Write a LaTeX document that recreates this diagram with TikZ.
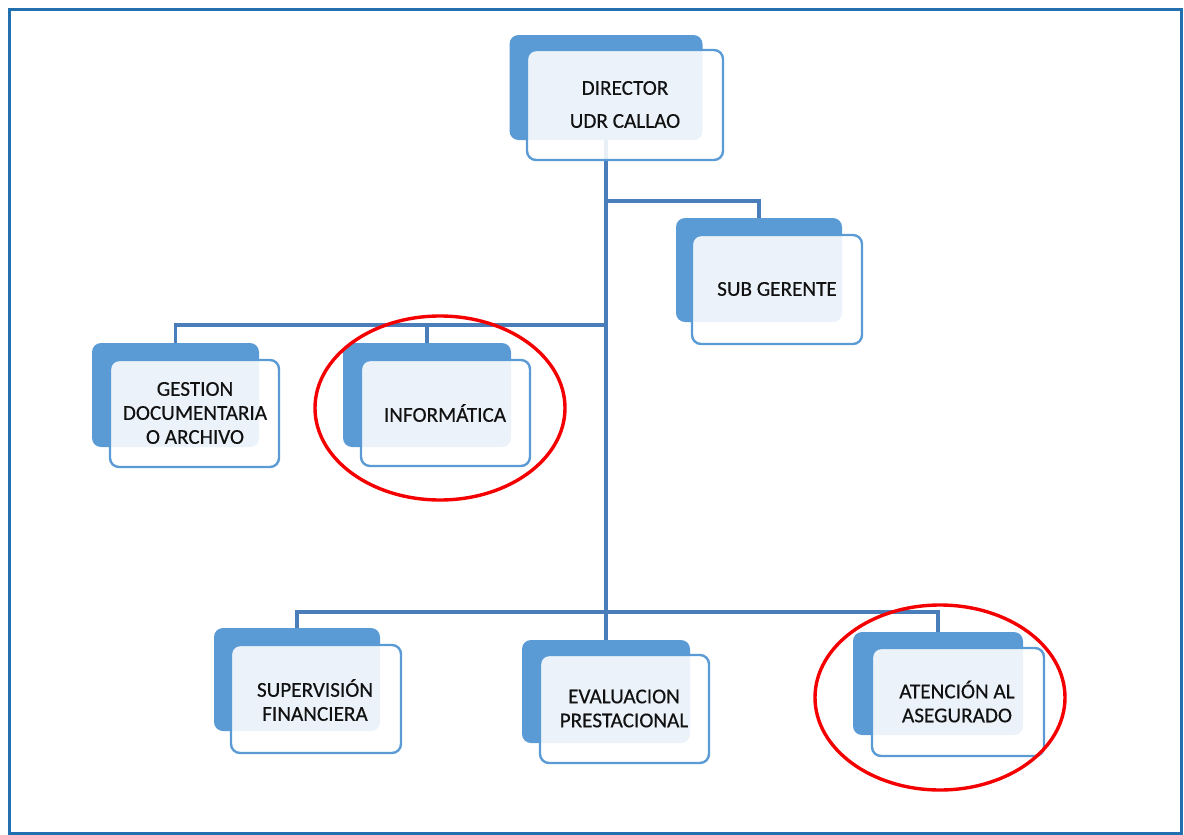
\documentclass[tikz,border=0pt]{standalone}
\usepackage{fontspec}
\setmainfont{Carlito}
\newfontfamily\lblfont{Carlito}[FakeBold=0.4]
\definecolor{frame}{HTML}{2270B0}
\definecolor{conn}{HTML}{4A7EBB}
\definecolor{bk}{HTML}{5B9BD5}
\definecolor{fr}{HTML}{5B9BD5}
\definecolor{txt}{HTML}{111111}
\definecolor{mark}{HTML}{F50000}
\tikzset{
  backbox/.style={fill=bk, draw=none, rounded corners=4.5pt, inner sep=0pt},
  frontbox/.style={draw=fr, line width=1.2pt, fill=white, fill opacity=0.88, rounded corners=4.5pt, inner sep=0pt},
  label/.style={text=txt, align=center, font=\lblfont\fontsize{10.6}{12}\selectfont, inner sep=0pt},
  connline/.style={draw=conn, line width=1.6pt},
  markring/.style={draw=mark, line width=1.7pt}
}
\begin{document}
\begin{tikzpicture}[x=0.5pt, y=-0.5pt]
\useasboundingbox (0,0) rectangle (1184,835);
\draw[frame, line width=1.5pt] (9,9) rectangle (1181,833);

% back boxes
\node[backbox, minimum width=96.5pt, minimum height=52.5pt] (dirB) at (606,87.5) {};
\node[backbox, minimum width=83pt, minimum height=52pt] (subB) at (759,270) {};
\node[backbox, minimum width=83.5pt, minimum height=52pt] (gesB) at (175.5,395) {};
\node[backbox, minimum width=84pt, minimum height=52pt] (infB) at (427,395) {};
\node[backbox, minimum width=83pt, minimum height=51.5pt] (supB) at (297,679.5) {};
\node[backbox, minimum width=84pt, minimum height=51.5pt] (evaB) at (606,691.5) {};
\node[backbox, minimum width=85pt, minimum height=51.5pt] (ateB) at (938,683.5) {};

% connectors
\coordinate (j1) at (606,201);
\coordinate (j2) at (606,325);
\coordinate (j3) at (606,612);
\draw[connline] (dirB.south) -- (evaB.north);
\draw[connline] (j1) -| (subB.north);
\draw[connline] (j2) -| (gesB.north);
\draw[connline] (infB.north) -- (infB.north |- j2);
\draw[connline] (supB.north) |- (j3) -| (ateB.north);

% front boxes
\node[frontbox, minimum width=98pt, minimum height=55pt] (dirF) at (625,105) {};
\node[frontbox, minimum width=85pt, minimum height=54.5pt] (subF) at (777,289.5) {};
\node[frontbox, minimum width=84.5pt, minimum height=53.5pt] (gesF) at (194.5,413.5) {};
\node[frontbox, minimum width=84.5pt, minimum height=53pt] (infF) at (445.5,413) {};
\node[frontbox, minimum width=85pt, minimum height=54pt] (supF) at (316,699) {};
\node[frontbox, minimum width=84.5pt, minimum height=54pt] (evaF) at (624.5,709) {};
\node[frontbox, minimum width=86pt, minimum height=54pt] (ateF) at (958,702) {};

% labels
\node[label] (dirT) at (625,104.5) {DIRECTOR\\[4.5pt]UDR CALLAO};
\node[label] (subT) at (777,289) {SUB GERENTE};
\node[label] (gesT) at (195,413) {GESTION\\DOCUMENTARIA\\O ARCHIVO};
\node[label] (infT) at (445,413) {INFORMÁTICA};
\node[label] (supT) at (315,700) {SUPERVISIÓN\\FINANCIERA};
\node[label] (evaT) at (624,708.5) {EVALUACION\\PRESTACIONAL};
\node[label] (ateT) at (957,701.5) {ATENCIÓN AL\\ASEGURADO};

% highlight rings
\draw[markring] (440,408) ellipse [x radius=62.5pt, y radius=46pt];
\draw[markring] (940,697.5) ellipse [x radius=62.5pt, y radius=46.25pt];
\end{tikzpicture}
\end{document}
